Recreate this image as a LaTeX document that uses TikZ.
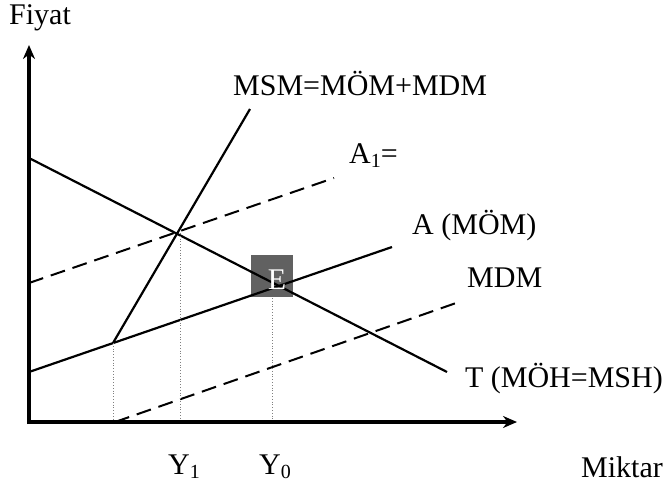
\documentclass[tikz,border=0pt]{standalone}
\usepackage{fontspec}
\setmainfont{Liberation Serif}
\usetikzlibrary{arrows.meta}

\newcommand{\lowidx}[1]{\raisebox{-0.3ex}{\fontsize{20}{20}\selectfont #1}}

\begin{document}
\begin{tikzpicture}[x=1pt, y=-1pt, >=Stealth,
    lbl/.style={font=\fontsize{30}{34}\selectfont, inner sep=0pt},
    curve/.style={line width=2.2pt},
    shifted/.style={line width=2pt, dash pattern=on 15pt off 8pt},
    guide/.style={gray, line width=0.8pt, dotted}]
        \useasboundingbox (0,0) rectangle (665,485);
        % equilibrium box
        \fill[black!62] (251,255) rectangle (293,297);
        % axes
        \draw[line width=3.5pt, ->, >={Stealth[length=14pt,width=12pt]}] (29,424) -- (29,45);
        \draw[line width=3.5pt, ->, >={Stealth[length=14pt,width=12pt]}] (27.25,422) -- (517,422);
        % curves
        \draw[curve] (29,158) -- (447,372);
        \draw[curve] (29,372) -- (392,247);
        \draw[curve] (113,343) -- (250,109);
        \draw[shifted] (29,283) -- (334,178);
        \draw[shifted] (115,422) -- (459,302);
        % guides
        \draw[guide] (113,343) -- (113,420);
        \draw[guide] (180,233) -- (180,420);
        \draw[guide] (272,298) -- (272,420);
        % labels
        \node[lbl] (fiyat) at (40,18) {Fiyat};
        \node[lbl, anchor=west] (msm) at (233,83) {MSM=MÖM+MDM};
        \node[lbl, anchor=west] (aone) at (349,156) {A\lowidx{1}=};
        \node[lbl, anchor=west] (a) at (412,226) {A (MÖM)};
        \node[lbl, anchor=west] (mdm) at (467,278) {MDM};
        \node[lbl, anchor=east] (t) at (663,379) {T (MÖH=MSH)};
        \node[lbl, text=white] (e) at (277,280) {E};
        \node[lbl] (yone) at (184,467) {Y\lowidx{1}};
        \node[lbl] (yzero) at (275,467) {Y\lowidx{0}};
        \node[lbl] (miktar) at (622,467) {Miktar};
      \end{tikzpicture}
\end{document}
